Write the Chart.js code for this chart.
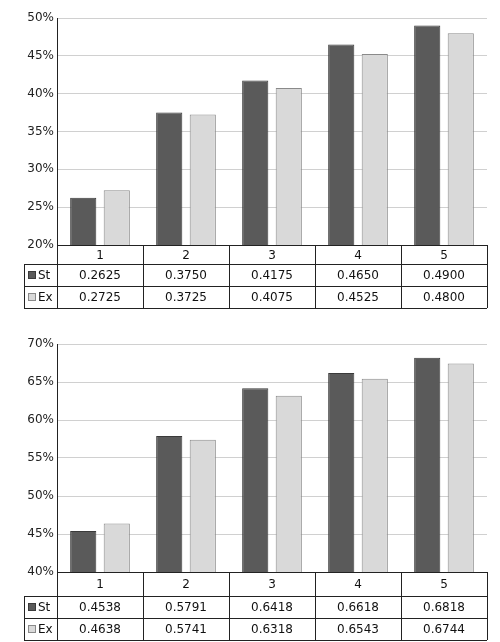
<!DOCTYPE html>
<html><head><meta charset="utf-8">
<script src="https://cdn.jsdelivr.net/npm/chart.js@4"></script>
<style>body{margin:0;background:#fff}canvas{position:absolute;left:0}</style>
</head><body>
<div style="position:absolute;left:0;top:0;width:500px;height:320px"><canvas id="c1"></canvas></div>
<div style="position:absolute;left:0;top:326px;width:500px;height:316px"><canvas id="c2"></canvas></div>
<script>
const categories = ['1','2','3','4','5'];
const seriesNames = ['St','Ex'];
const top_St = [0.2625,0.3750,0.4175,0.4650,0.4900];
const top_Ex = [0.2725,0.3725,0.4075,0.4525,0.4800];
const bot_St = [0.4538,0.5791,0.6418,0.6618,0.6818];
const bot_Ex = [0.4638,0.5741,0.6318,0.6543,0.6744];
const topRange = [0.20,0.50];
const botRange = [0.40,0.70];
const colors = ['#5a5a5a','#d9d9d9'];
const borders = ['#3a3a3a','#8a8a8a'];
const FONT = 'DejaVu Sans';

const tablePlugin = {
  id:'table',
  afterDraw(chart, args, opts){
    const ctx = chart.ctx, a = chart.chartArea, x = chart.scales.x;
    const n = categories.length;
    const cw = (a.right - a.left)/n;
    const hh = opts.headH, rh = 22, legL = 24;
    const y0 = a.bottom, y1 = y0+hh, y2 = y1+rh, y3 = y2+rh;
    ctx.save();
    ctx.strokeStyle = '#222'; ctx.lineWidth = 1;
    ctx.beginPath();
    ctx.moveTo(a.left, y0+0.5); ctx.lineTo(a.right, y0+0.5);
    [y1,y2,y3].forEach(y=>{ctx.moveTo(legL, y+0.5); ctx.lineTo(a.right, y+0.5);});
    ctx.moveTo(legL+0.5, y1); ctx.lineTo(legL+0.5, y3);
    for(let i=0;i<=n;i++){const px=Math.round(a.left+i*cw)+0.5; ctx.moveTo(px,y0); ctx.lineTo(px,y3);}
    ctx.stroke();
    ctx.fillStyle='#111'; ctx.font = '12px '+FONT; ctx.textAlign='center'; ctx.textBaseline='middle';
    categories.forEach((c,i)=>{
      const px = x.getPixelForValue(i);
      ctx.fillText(c, px, (y0+y1)/2+1);
      chart.data.datasets.forEach((d,j)=>{
        const yy = j===0 ? (y1+y2)/2+1 : (y2+y3)/2+1;
        ctx.fillStyle='#111';
        ctx.fillText(d.data[i].toFixed(4), px, yy);
      });
    });
    chart.data.datasets.forEach((d,j)=>{
      const yy = j===0 ? (y1+y2)/2 : (y2+y3)/2;
      ctx.fillStyle = colors[j]; ctx.strokeStyle = borders[j];
      ctx.fillRect(legL+4, yy-4, 8, 8); ctx.strokeRect(legL+4.5, yy-3.5, 7, 7);
      ctx.fillStyle='#111'; ctx.textAlign='left';
      ctx.save(); ctx.beginPath(); ctx.rect(legL, y1, a.left-legL-1, y3-y1); ctx.clip();
      ctx.fillText(seriesNames[j], legL+14, yy+1); ctx.restore();
      ctx.textAlign='center';
    });
    ctx.restore();
  }
};

function make(id, st, ex, range, padBottom, headH){
  new Chart(document.getElementById(id), {
    type:'bar',
    data:{labels:categories, datasets:[
      {label:seriesNames[0], data:st, backgroundColor:colors[0], borderColor:borders[0], borderWidth:1, categoryPercentage:0.78, barPercentage:0.78},
      {label:seriesNames[1], data:ex, backgroundColor:colors[1], borderColor:borders[1], borderWidth:1, categoryPercentage:0.78, barPercentage:0.78}
    ]},
    options:{
      responsive:true, maintainAspectRatio:false, animation:false,
      layout:{padding:{left:0,right:13,top:18,bottom:padBottom}},
      plugins:{legend:{display:false}, tooltip:{enabled:false}, table:{headH}},
      scales:{
        x:{display:false, grid:{display:false}},
        y:{min:range[0], max:range[1],
           ticks:{stepSize:0.05, color:'#222', font:{family:FONT,size:12}, callback:v=>Math.round(v*100)+'%'},
           grid:{color:'#d0d0d0', drawTicks:false}, border:{color:'#222'},
           afterFit:s=>{s.width=57;}}
      }
    },
    plugins:[tablePlugin]
  });
}
make('c1', top_St, top_Ex, topRange, 75, 19);
make('c2', bot_St, bot_Ex, botRange, 70, 24);
</script></body></html>
